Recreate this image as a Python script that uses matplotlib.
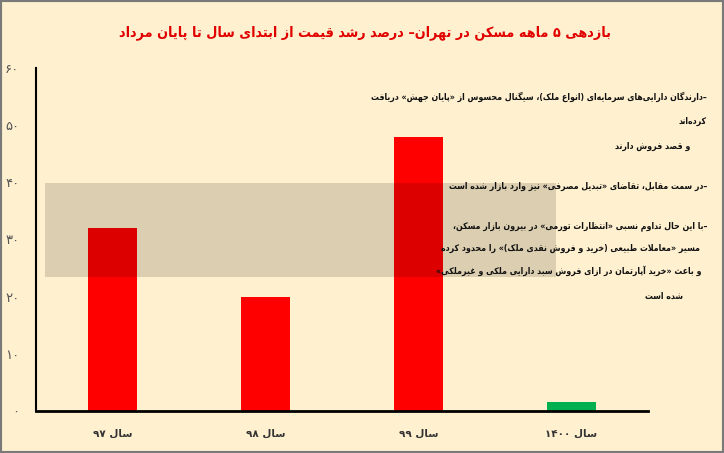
import matplotlib
matplotlib.use("Agg")
import matplotlib.pyplot as plt
from matplotlib.patches import Rectangle

# ---------------- data ----------------
categories = ["سال ۹۷", "سال ۹۸", "سال ۹۹", "سال ۱۴۰۰"]
values = [32, 20, 48, 1.6]
bar_colors = ["#FF0000", "#FF0000", "#FF0000", "#00B050"]
ytick_values = [0, 10, 20, 30, 40, 50, 60]
ytick_labels = ["۰", "۱۰", "۲۰", "۳۰", "۴۰", "۵۰", "۶۰"]
title = "بازدهی ۵ ماهه مسکن در تهران– درصد رشد قیمت از ابتدای سال تا پایان مرداد"
notes = [
    "–دارندگان دارایی\u200cهای سرمایه\u200cای (انواع ملک)، سیگنال محسوس از «پایان جهش» دریافت",
    "کرده\u200cاند",
    "و قصد فروش دارند",
    "–در سمت مقابل، تقاضای «تبدیل مصرفی» نیز وارد بازار شده است",
    "–با این حال تداوم نسبی «انتظارات تورمی» در بیرون بازار مسکن،",
    "مسیر «معاملات طبیعی (خرید و فروش نقدی ملک)» را محدود کرده",
    "و باعث «خرید آپارتمان در ازای فروش سبد دارایی ملکی و غیرملکی»",
    "شده است",
]

# ---------------- minimal Persian shaping ----------------
FORMS = {
    '\u0621': ('\uFE80', None, None, None),
    '\u0622': ('\uFE81', '\uFE82', None, None),
    '\u0623': ('\uFE83', '\uFE84', None, None),
    '\u0624': ('\uFE85', '\uFE86', None, None),
    '\u0625': ('\uFE87', '\uFE88', None, None),
    '\u0626': ('\uFE89', '\uFE8A', '\uFE8B', '\uFE8C'),
    '\u0627': ('\uFE8D', '\uFE8E', None, None),
    '\u0628': ('\uFE8F', '\uFE90', '\uFE91', '\uFE92'),
    '\u0629': ('\uFE93', '\uFE94', None, None),
    '\u062A': ('\uFE95', '\uFE96', '\uFE97', '\uFE98'),
    '\u062B': ('\uFE99', '\uFE9A', '\uFE9B', '\uFE9C'),
    '\u062C': ('\uFE9D', '\uFE9E', '\uFE9F', '\uFEA0'),
    '\u062D': ('\uFEA1', '\uFEA2', '\uFEA3', '\uFEA4'),
    '\u062E': ('\uFEA5', '\uFEA6', '\uFEA7', '\uFEA8'),
    '\u062F': ('\uFEA9', '\uFEAA', None, None),
    '\u0630': ('\uFEAB', '\uFEAC', None, None),
    '\u0631': ('\uFEAD', '\uFEAE', None, None),
    '\u0632': ('\uFEAF', '\uFEB0', None, None),
    '\u0633': ('\uFEB1', '\uFEB2', '\uFEB3', '\uFEB4'),
    '\u0634': ('\uFEB5', '\uFEB6', '\uFEB7', '\uFEB8'),
    '\u0635': ('\uFEB9', '\uFEBA', '\uFEBB', '\uFEBC'),
    '\u0636': ('\uFEBD', '\uFEBE', '\uFEBF', '\uFEC0'),
    '\u0637': ('\uFEC1', '\uFEC2', '\uFEC3', '\uFEC4'),
    '\u0638': ('\uFEC5', '\uFEC6', '\uFEC7', '\uFEC8'),
    '\u0639': ('\uFEC9', '\uFECA', '\uFECB', '\uFECC'),
    '\u063A': ('\uFECD', '\uFECE', '\uFECF', '\uFED0'),
    '\u0641': ('\uFED1', '\uFED2', '\uFED3', '\uFED4'),
    '\u0642': ('\uFED5', '\uFED6', '\uFED7', '\uFED8'),
    '\u0643': ('\uFED9', '\uFEDA', '\uFEDB', '\uFEDC'),
    '\u0644': ('\uFEDD', '\uFEDE', '\uFEDF', '\uFEE0'),
    '\u0645': ('\uFEE1', '\uFEE2', '\uFEE3', '\uFEE4'),
    '\u0646': ('\uFEE5', '\uFEE6', '\uFEE7', '\uFEE8'),
    '\u0647': ('\uFEE9', '\uFEEA', '\uFEEB', '\uFEEC'),
    '\u0648': ('\uFEED', '\uFEEE', None, None),
    '\u0649': ('\uFEEF', '\uFEF0', None, None),
    '\u064A': ('\uFEF1', '\uFEF2', '\uFEF3', '\uFEF4'),
    '\u067E': ('\uFB56', '\uFB57', '\uFB58', '\uFB59'),
    '\u0686': ('\uFB7A', '\uFB7B', '\uFB7C', '\uFB7D'),
    '\u0698': ('\uFB8A', '\uFB8B', None, None),
    '\u06A9': ('\uFB8E', '\uFB8F', '\uFB90', '\uFB91'),
    '\u06AF': ('\uFB92', '\uFB93', '\uFB94', '\uFB95'),
    '\u06CC': ('\uFBFC', '\uFBFD', '\uFBFE', '\uFBFF'),
}
LAMALEF = {'\u0627': ('\uFEFB', '\uFEFC'), '\u0622': ('\uFEF5', '\uFEF6'),
           '\u0623': ('\uFEF7', '\uFEF8'), '\u0625': ('\uFEF9', '\uFEFA')}
MIRROR = {'(': ')', ')': '(', '«': '»', '»': '«', '[': ']', ']': '['}
DIGITS = set('0123456789۰۱۲۳۴۵۶۷۸۹')


def dual(c):
    return c in FORMS and FORMS[c][2] is not None


def shape(s):
    out = []
    i = 0
    n = len(s)
    while i < n:
        c = s[i]
        if c not in FORMS:
            out.append(c)
            i += 1
            continue
        prev = s[i - 1] if i > 0 else ''
        cprev = dual(prev)
        if c == '\u0644' and i + 1 < n and s[i + 1] in LAMALEF:
            out.append(LAMALEF[s[i + 1]][1 if cprev else 0])
            i += 2
            continue
        nxt = s[i + 1] if i + 1 < n else ''
        cnext = dual(c) and nxt in FORMS
        f = FORMS[c]
        if cprev and cnext:
            g = f[3]
        elif cprev:
            g = f[1]
        elif cnext:
            g = f[2]
        else:
            g = f[0]
        out.append(g)
        i += 1
    return ''.join(ch for ch in out if ch != '\u200c')


def fa(s):
    sh = shape(s)
    runs = []
    cur = ''
    cur_d = None
    for ch in sh:
        d = ch in DIGITS
        if cur_d is None or d == cur_d:
            cur += ch
        else:
            runs.append((cur, cur_d))
            cur = ch
        cur_d = d
    if cur:
        runs.append((cur, cur_d))
    res = []
    for txt, d in reversed(runs):
        if d:
            res.append(txt)
        else:
            res.append(''.join(MIRROR.get(ch, ch) for ch in reversed(txt)))
    return ''.join(res)


# ---------------- figure ----------------
W, H = 724, 453
BG = "#FFF1D0"
plt.rcParams['font.family'] = ['DejaVu Sans']
fig = plt.figure(figsize=(W / 100, H / 100), dpi=100, facecolor=BG)


def px(x, y):
    return x / W, 1 - y / H


# frame
fig.patches.append(Rectangle((0, 0), 1, 1, transform=fig.transFigure,
                             fill=False, edgecolor="#7A7A7A", linewidth=3))

left, right, top, bottom = 36, 648, 68, 411
ax = fig.add_axes([left / W, 1 - bottom / H, (right - left) / W, (bottom - top) / H])
ax.set_facecolor("none")
xs = list(range(len(categories)))
ax.bar(xs, values, width=0.315, color=bar_colors, zorder=2)
ax.set_xlim(-0.5, 3.5)
ax.set_ylim(0, 60)
for s in ["top", "right"]:
    ax.spines[s].set_visible(False)
ax.spines["left"].set_linewidth(1.5)
ax.spines["bottom"].set_linewidth(2)
ax.set_yticks(ytick_values)
ax.set_yticklabels([fa(t) for t in ytick_labels], fontsize=9.5, color="#555555")
ax.set_xticks(xs)
ax.set_xticklabels([fa(c) for c in categories], fontsize=7.5, color="#333333",
                   fontweight="bold")
ax.tick_params(axis="y", length=0, pad=12)
ax.tick_params(axis="x", length=0, pad=13)

# translucent watermark band
fig.patches.append(Rectangle(px(45, 277), (556 - 45) / W, (277 - 183) / H,
                             transform=fig.transFigure, facecolor="#1a0d00",
                             alpha=0.15, edgecolor="none", zorder=5))

# title
tx, ty = px(365, 33)
fig.text(tx, ty, fa(title), color="#E00000", fontsize=10.3, fontweight="bold",
         ha="center", va="center", fontstretch="condensed")

# notes
note_pos = [(707, 97), (707, 121), (690, 146), (707, 186),
            (707, 226), (700, 248), (702, 271), (683, 296)]
for t, (x, y) in zip(notes, note_pos):
    nx, ny = px(x, y)
    fig.text(nx, ny, fa(t), color="#111111", fontsize=6.3, fontweight="bold",
             ha="right", va="center", zorder=6, fontstretch="condensed")

fig.savefig("out.png", dpi=100, facecolor=BG)
